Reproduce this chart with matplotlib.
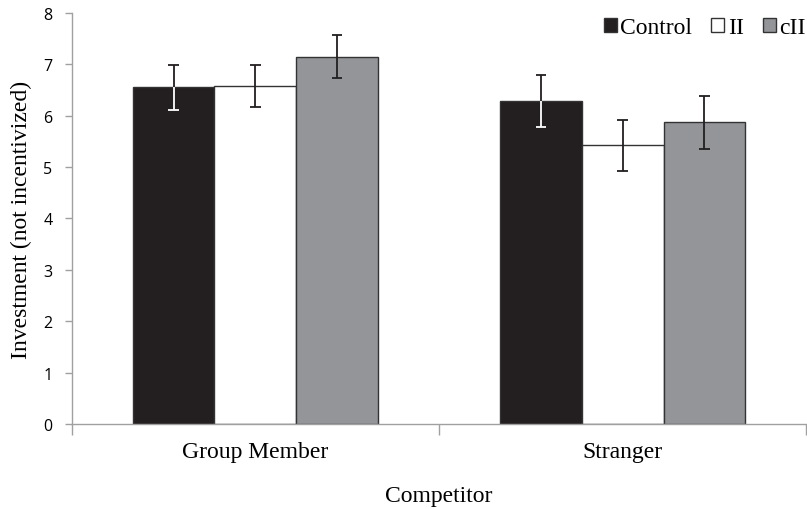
import numpy as np
import matplotlib.pyplot as plt
from matplotlib.patches import Patch

competitors = ['Group Member', 'Stranger']
conditions = ['Control', 'II', 'cII']
means = {
    'Control': [6.55, 6.29],
    'II': [6.57, 5.42],
    'cII': [7.15, 5.87],
}
errors = {
    'Control': [0.43, 0.51],
    'II': [0.41, 0.49],
    'cII': [0.42, 0.51],
}
fills = {'Control': '#231f20', 'II': '#ffffff', 'cII': '#939598'}
serif = 'Liberation Serif'

fig = plt.figure(figsize=(8.07, 5.10), dpi=100)
ax = fig.add_axes([0.089, 0.1667, 0.91, 0.806])

x = np.arange(len(competitors))
width = 0.223
cap = 0.014
for i, cond in enumerate(conditions):
    pos = x + (i - 1) * width
    m = np.array(means[cond])
    e = np.array(errors[cond])
    ax.bar(pos, m, width, color=fills[cond], edgecolor='#333333',
           linewidth=1.0, zorder=2)
    # whiskers: the half inside the dark control bars is drawn white
    low_col = 'white' if cond == 'Control' else '#231f20'
    ax.vlines(pos, m, m + e, color='#231f20', lw=1.3, zorder=3)
    ax.hlines(m + e, pos - cap, pos + cap, color='#231f20', lw=1.3, zorder=3)
    ax.vlines(pos, m - e, m, color=low_col, lw=1.3, zorder=3)
    ax.hlines(m - e, pos - cap, pos + cap, color=low_col, lw=1.3, zorder=3)

ax.set_xlim(-0.5, 1.5)
ax.set_ylim(0, 8)
ax.set_yticks(range(0, 9))
ax.tick_params(axis='y', labelsize=11.5, length=5, color='#a0a0a0', width=1, pad=9)
for lab in ax.get_yticklabels():
    lab.set_family('Open Sans')

ax.set_xticks([-0.5, 0.5, 1.5])
ax.set_xticklabels([])
ax.tick_params(axis='x', which='major', length=8, color='#a0a0a0', width=1)
ax.set_xticks(x, minor=True)
ax.set_xticklabels(competitors, minor=True, fontsize=17, family=serif)
ax.tick_params(axis='x', which='minor', length=0, pad=12)

for side in ['top', 'right']:
    ax.spines[side].set_visible(False)
for side in ['left', 'bottom']:
    ax.spines[side].set_color('#a0a0a0')
    ax.spines[side].set_linewidth(1)

ax.set_ylabel('Investment (not incentivized)', fontsize=17, family=serif,
              labelpad=8)
ax.set_xlabel('Competitor', fontsize=17, family=serif, labelpad=17)

handles = [Patch(facecolor=fills[c], edgecolor='#333333', label=c) for c in conditions]
ax.legend(handles=handles, ncol=3, frameon=False, loc='upper right',
          bbox_to_anchor=(1.025, 1.035), handlelength=0.55, handleheight=0.55,
          handletextpad=0.15, columnspacing=0.8, borderpad=0.3,
          prop={'family': serif, 'size': 17})

fig.savefig('out.png', dpi=100)
